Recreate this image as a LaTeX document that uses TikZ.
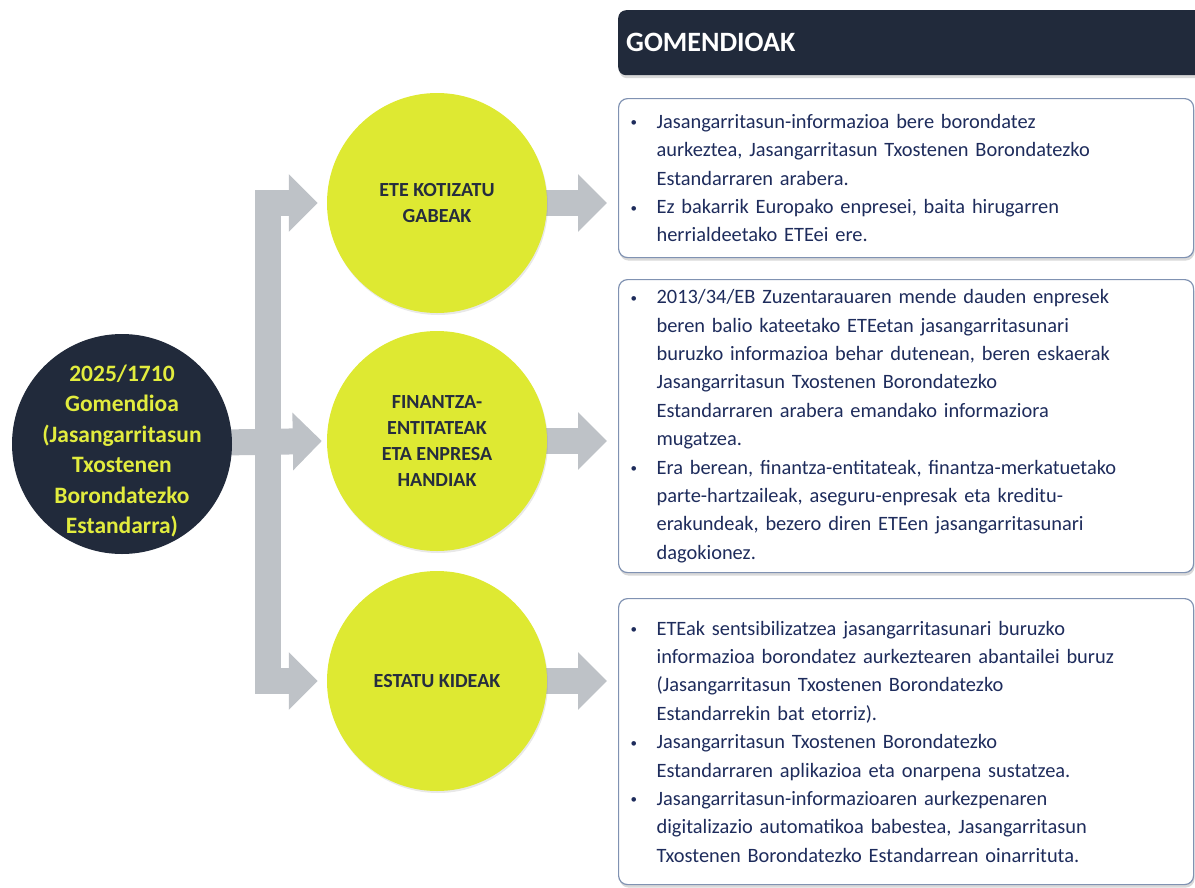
\documentclass[tikz,border=0pt]{standalone}
\usepackage{fontspec}
\setmainfont{Carlito}
\usetikzlibrary{arrows.meta,positioning,calc,shadows,backgrounds}
\definecolor{navydark}{RGB}{33,42,59}
\definecolor{rootyellow}{RGB}{226,236,62}
\definecolor{topicyellow}{RGB}{222,233,50}
\definecolor{topictext}{RGB}{38,45,62}
\definecolor{bargray}{RGB}{190,194,199}
\definecolor{boxline}{RGB}{128,146,178}
\definecolor{bodyblue}{RGB}{30,44,92}
\newcommand{\bul}{\makebox[26pt][l]{\fontsize{13}{13}\selectfont\raisebox{1.5pt}{\textbullet}}}
\newcommand{\ind}{\hspace*{26pt}}

\begin{document}
\begin{tikzpicture}[x=1pt, y=-1pt,
    rootnode/.style={circle, fill=navydark, minimum size=220pt, inner sep=0pt},
    roottext/.style={align=center, inner sep=0pt, text=rootyellow,
                font=\bfseries\fontsize{23.5}{30.5}\selectfont},
    topic/.style={circle, fill=topicyellow, minimum size=220pt, inner sep=0pt,
                align=center, text=topictext, font=\bfseries\fontsize{20}{26.3}\selectfont,
                drop shadow={opacity=0.18, shadow xshift=1pt, shadow yshift=-2pt}},
    header/.style={rectangle, fill=navydark, rounded corners=8pt, anchor=north west,
                minimum width=600pt, minimum height=65pt, text width=584pt, inner xsep=8pt,
                align=left, text=white, font=\bfseries\fontsize{28}{32}\selectfont,
                drop shadow={opacity=0.3, shadow xshift=1pt, shadow yshift=-3pt}},
    infobox/.style={rectangle, draw=boxline, line width=1.2pt, fill=white, rounded corners=9pt,
                anchor=north west, minimum width=575pt, text width=551pt, inner xsep=12pt,
                align=left, text=bodyblue, font=\fontsize{20.4}{28.4}\selectfont,
                drop shadow={opacity=0.3, shadow xshift=1pt, shadow yshift=-3pt}},
    bar/.style={line width=26pt, draw=bargray, line join=miter},
    bararrow/.style={bar, -{Triangle[length=29pt,width=56pt]}}
]
\useasboundingbox (0,0) rectangle (1195,887);

% circles
\node[rootnode] (root) at (122,444) {};
\node[roottext] (rootlabel) at ($(root.center)+(0,7)$) {2025/1710\\Gomendioa\\(Jasangarritasun\\Txostenen\\Borondatezko\\Estandarra)};
\node[topic] (ete) at (437,203) {ETE KOTIZATU\\GABEAK};
\node[topic] (fin) at (437,441) {FINANTZA-\\ENTITATEAK\\ETA ENPRESA\\HANDIAK};
\node[topic] (estatu) at (437,681) {ESTATU KIDEAK};

% right column
\node[header] (head) at (618,10) {GOMENDIOAK};
\node[infobox, minimum height=159pt] (box1) at (618,98) {%
\bul Jasangarritasun-informazioa bere borondatez\\
\ind aurkeztea, Jasangarritasun Txostenen Borondatezko\\
\ind Estandarraren arabera.\\
\bul Ez bakarrik Europako enpresei, baita hirugarren\\
\ind herrialdeetako ETEei ere.};
\node[infobox, minimum height=293pt] (box2) at (618,279) {%
\bul 2013/34/EB Zuzentarauaren mende dauden enpresek\\
\ind beren balio kateetako ETEetan jasangarritasunari\\
\ind buruzko informazioa behar dutenean, beren eskaerak\\
\ind Jasangarritasun Txostenen Borondatezko\\
\ind Estandarraren arabera emandako informaziora\\
\ind mugatzea.\\
\bul Era berean, finantza-entitateak, finantza-merkatuetako\\
\ind parte-hartzaileak, aseguru-enpresak eta kreditu-\\
\ind erakundeak, bezero diren ETEen jasangarritasunari\\
\ind dagokionez.};
\node[infobox, minimum height=286pt] (box3) at (618,598) {%
\bul ETEak sentsibilizatzea jasangarritasunari buruzko\\
\ind informazioa borondatez aurkeztearen abantailei buruz\\
\ind (Jasangarritasun Txostenen Borondatezko\\
\ind Estandarrekin bat etorriz).\\
\bul Jasangarritasun Txostenen Borondatezko\\
\ind Estandarraren aplikazioa eta onarpena sustatzea.\\
\bul Jasangarritasun-informazioaren aurkezpenaren\\
\ind digitalizazio automatikoa babestea, Jasangarritasun\\
\ind Txostenen Borondatezko Estandarrean oinarrituta.};

% gray block arrows
\begin{scope}[on background layer]
\draw[bararrow] (root.center) -- ($(fin.west)+(-5,0)$);
\draw[bar, {Triangle[length=29pt,width=56pt]}-{Triangle[length=29pt,width=56pt]}]
    ($(ete.west)+(-9,0)$) -| ($(root.east)+(35.5,0)$) |- ($(estatu.west)+(-9,0)$);
\draw[bararrow] (ete.center) -- ($(box1.west |- ete)+(-11,0)$);
\draw[bararrow] (fin.center) -- ($(box2.west |- fin)+(-11,0)$);
\draw[bararrow] (estatu.center) -- ($(box3.west |- estatu)+(-11,0)$);
\end{scope}
\end{tikzpicture}
\end{document}
